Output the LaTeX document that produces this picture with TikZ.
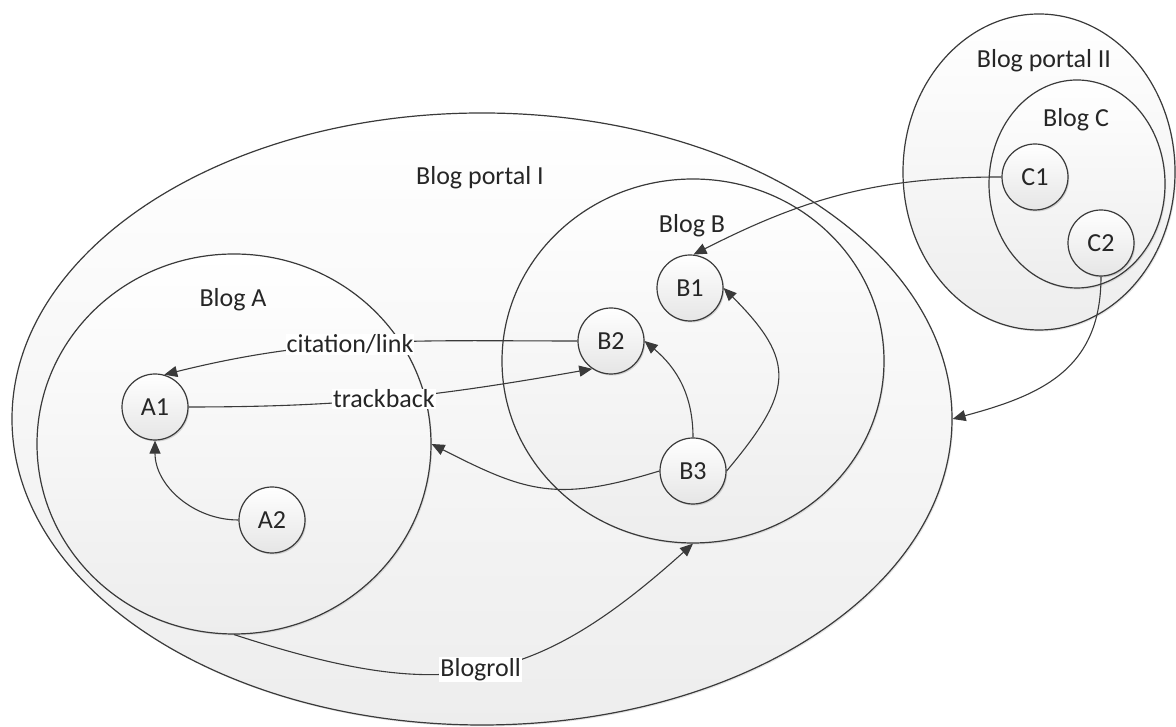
\documentclass[tikz,border=0pt]{standalone}
\usepackage{fontspec}
\setmainfont{Carlito}
\usetikzlibrary{shapes.geometric,arrows.meta,shadows}
\definecolor{edgecol}{HTML}{3A3A3A}
\definecolor{txtcol}{HTML}{262626}
\newcommand\dfont{\fontsize{26}{31}\selectfont}
\tikzset{
  region/.style={ellipse, draw=edgecol, line width=1.2pt, inner sep=0pt,
    top color=white, bottom color=black!7,
    drop shadow={shadow xshift=1.2pt, shadow yshift=-1.5pt, fill=black, opacity=0.10}},
  post/.style={circle, draw=edgecol, line width=1.2pt, minimum size=66pt, inner sep=0pt,
    top color=white, bottom color=black!10, text=txtcol, font=\dfont,
    drop shadow={shadow xshift=1.2pt, shadow yshift=-1.5pt, fill=black, opacity=0.15}},
  title/.style={text=txtcol, font=\dfont, inner sep=0pt, anchor=base},
  lbl/.style={fill=white, text=txtcol, font=\dfont, inner sep=1pt},
  link/.style={draw=edgecol, line width=1.1pt, -{Triangle[length=13pt,width=11pt]}}
}
\begin{document}
\begin{tikzpicture}[x=1pt,y=1pt]
\fill[white] (0,0) rectangle (1176,727);
\useasboundingbox (0,0) rectangle (1176,727);
% regions
\node[region, minimum width=940pt, minimum height=612pt] (P1) at (482,308) {};
\node[region, minimum width=394pt, minimum height=380pt] (BA) at (234,283) {};
\node[region, minimum width=382pt, minimum height=364pt] (BB) at (693,366) {};
\node[region, minimum width=272pt, minimum height=316pt] (P2) at (1039,555) {};
\node[region, minimum width=176pt, minimum height=208pt] (BC) at (1077,543) {};
% titles
\node[title] (tP1) at (480,542) {Blog portal I};
\node[title] (tBA) at (233,420) {Blog A};
\node[title] (tBB) at (692,494) {Blog B};
\node[title] (tP2) at (1044,659) {Blog portal II};
\node[title] (tBC) at (1076,600) {Blog C};
% posts
\node[post] (A1) at (155,320) {A1};
\node[post] (A2) at (272,207) {A2};
\node[post] (B1) at (690,439) {B1};
\node[post] (B2) at (611,386) {B2};
\node[post] (B3) at (693,256) {B3};
\node[post] (C1) at (1035,550) {C1};
\node[post] (C2) at (1101,484) {C2};
% connectors
\draw[link] (B2.west) to[out=180, in=14] node[lbl, pos=0.55] (lcit) {citation/link} (A1.74);
\draw[link] (A1.east) to[out=0, in=190] node[lbl, pos=0.48] (ltb) {trackback} (B2.236);
\draw[link] (A2.west) to[out=180, in=-90] (A1.south);
\draw[link] (B3.west) to[out=197, in=333, looseness=1.2] (BA.east);
\draw[link] (B3.north) to[out=90, in=-40] (B2.east);
\draw[link] (B3.east) to[out=50, in=-45, looseness=1.45] (B1.east);
\draw[link] (C1.west) to[out=180, in=27] (B1.84);
\draw[link] (C2.south) to[out=-90, in=15, looseness=1.15] (P1.east);
\draw[link] (BA.south) to[out=-18, in=222, looseness=1.2] node[lbl, pos=0.5] (lbr) {Blogroll} (BB.south);
\end{tikzpicture}
\end{document}
